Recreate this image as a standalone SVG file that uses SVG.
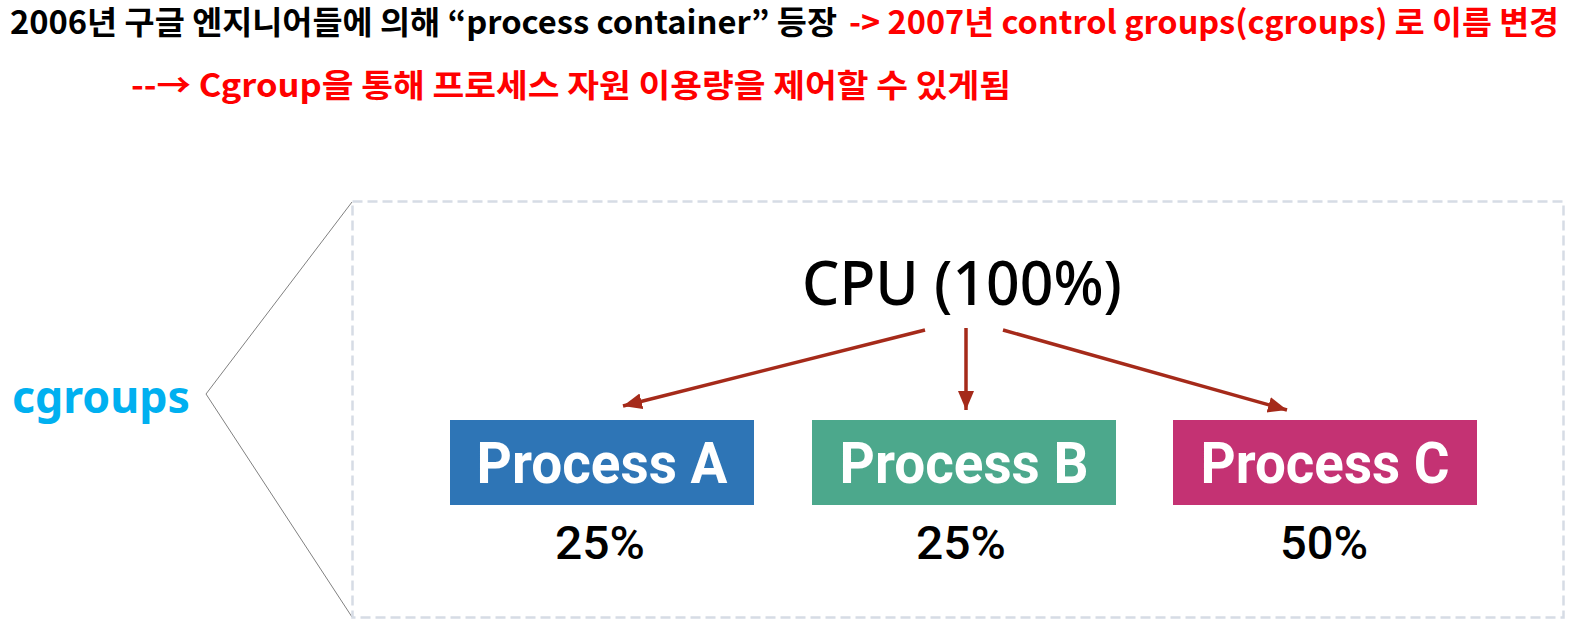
<svg xmlns="http://www.w3.org/2000/svg" width="1581" height="630" viewBox="0 0 1581 630">
<style>
.t1{font-family:"Noto Sans CJK KR","Noto Sans",sans-serif;font-weight:700;font-size:32px}
.blk{fill:#000}
.red{fill:#FF0000}
.cg{font-family:"Noto Sans","Noto Sans CJK KR",sans-serif;font-weight:700;font-size:45px;fill:#00B0F0}
.cpu{font-family:"Noto Sans","Noto Sans CJK KR",sans-serif;font-weight:500;font-size:61px;fill:#000}
.pl{font-family:Roboto,"Liberation Sans",sans-serif;font-weight:700;font-size:57px;fill:#fff}
.pct{font-family:Roboto,"Liberation Sans",sans-serif;font-weight:500;font-size:46px;fill:#000}
.arr{stroke:#A52A1A;stroke-width:3.5;fill:none}
</style>
<defs>
<marker id="ah" markerUnits="userSpaceOnUse" markerWidth="22" markerHeight="18" refX="19" refY="8" orient="auto">
<path d="M0,0 L19,8 L0,16 Z" fill="#A52A1A"/>
</marker>
</defs>
<rect width="1581" height="630" fill="#fff"/>
<g id="title">
<text class="t1 blk" x="10" y="34" textLength="827" lengthAdjust="spacingAndGlyphs">2006년 구글 엔지니어들에 의해 “process container” 등장</text>
<text class="t1 red" x="849" y="34" textLength="710" lengthAdjust="spacingAndGlyphs">-&gt; 2007년 control groups(cgroups) 로 이름 변경</text>
<text class="t1 red" x="131" y="97" textLength="880" lengthAdjust="spacingAndGlyphs">--→ Cgroup을 통해 프로세스 자원 이용량을 제어할 수 있게됨</text>
</g>
<g id="cgroups">
<text class="cg" x="12" y="413" textLength="178" lengthAdjust="spacingAndGlyphs">cgroups</text>
</g>
<g id="callout">
<polyline points="352,202 206,394 352,617" fill="none" stroke="#808080" stroke-width="1"/>
<rect x="352.5" y="201.5" width="1211" height="416" fill="none" stroke="#D6DCE5" stroke-width="2.5" stroke-dasharray="10,5"/>
</g>
<g id="cpu">
<text class="cpu" x="962" y="305" text-anchor="middle" textLength="320" lengthAdjust="spacingAndGlyphs">CPU (100%)</text>
</g>
<g id="connectors">
<line class="arr" x1="925" y1="330" x2="623" y2="406" marker-end="url(#ah)"/>
<line class="arr" x1="966" y1="328" x2="966" y2="410" marker-end="url(#ah)"/>
<line class="arr" x1="1003" y1="330" x2="1287" y2="410" marker-end="url(#ah)"/>
</g>
<g id="processA">
<rect x="450" y="420" width="304" height="85" fill="#2E75B6"/>
<text class="pl" x="602" y="483" text-anchor="middle" textLength="251" lengthAdjust="spacingAndGlyphs">Process A</text>
<text class="pct" x="600" y="559" text-anchor="middle" textLength="90" lengthAdjust="spacingAndGlyphs">25%</text>
</g>
<g id="processB">
<rect x="812" y="420" width="304" height="85" fill="#4CA88C"/>
<text class="pl" x="964" y="483" text-anchor="middle" textLength="249" lengthAdjust="spacingAndGlyphs">Process B</text>
<text class="pct" x="961" y="559" text-anchor="middle" textLength="90" lengthAdjust="spacingAndGlyphs">25%</text>
</g>
<g id="processC">
<rect x="1173" y="420" width="304" height="85" fill="#C43273"/>
<text class="pl" x="1325" y="483" text-anchor="middle" textLength="249" lengthAdjust="spacingAndGlyphs">Process C</text>
<text class="pct" x="1324" y="559" text-anchor="middle" textLength="88" lengthAdjust="spacingAndGlyphs">50%</text>
</g>
</svg>
